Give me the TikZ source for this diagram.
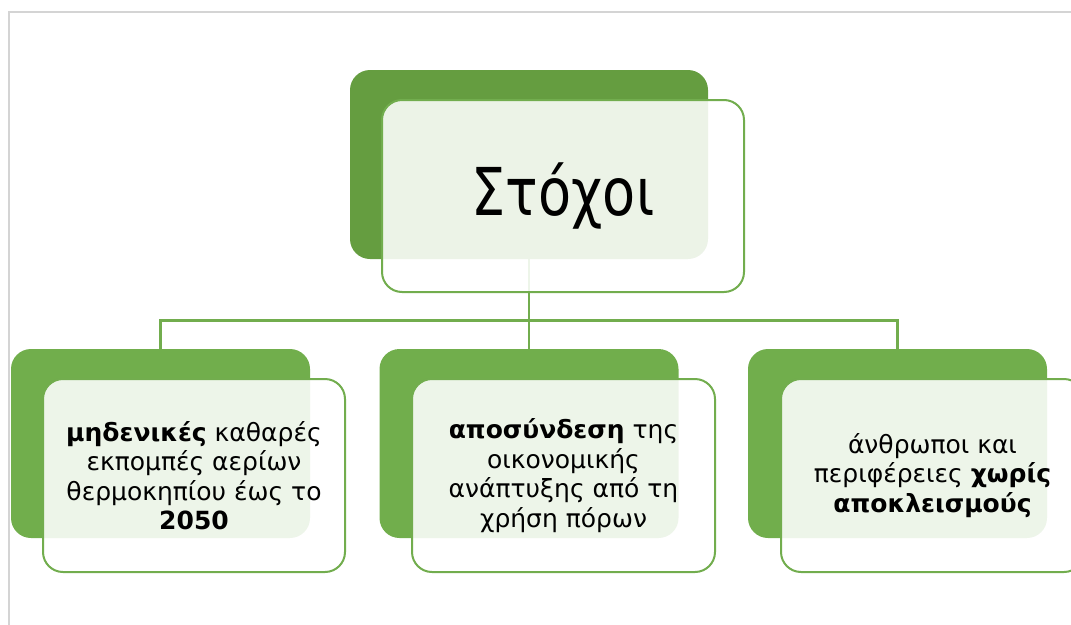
\documentclass[tikz,border=0pt]{standalone}
\usepackage{fontspec}
\setmainfont{DejaVu Sans}
\newfontfamily\titlefont{DejaVu Sans}[FakeStretch=0.82]
\definecolor{gdark}{HTML}{659D40}
\definecolor{glight}{HTML}{71AE4C}
\definecolor{gline}{HTML}{72AD4E}
\definecolor{framegrey}{HTML}{D4D4D4}
\pgfdeclarelayer{bg}
\pgfsetlayers{bg,main}
\tikzset{
  backbox/.style={rectangle, rounded corners=20pt, inner sep=0pt, draw=none},
  frontbox/.style={rectangle, rounded corners=20pt, inner sep=0pt, draw=gline, line width=2pt,
    fill=white, fill opacity=0.88, text opacity=1, align=center},
  childtext/.style={font=\fontsize{25}{29.5}\selectfont},
  conn/.style={draw=gline, line width=2.2pt},
}
\begin{document}
\begin{tikzpicture}[x=1pt,y=-1pt]
\useasboundingbox (0,0) rectangle (1071,624);
\clip (0,0) rectangle (1071,624);
% frame
\begin{pgfonlayer}{bg}
\coordinate (ftl) at (9,12);
\coordinate (ftr) at (1075,12);
\coordinate (fbl) at (9,630);
\draw[framegrey, line width=1.4pt] (ftr) -- (ftl) -- (fbl);
\end{pgfonlayer}
% back boxes
\node[backbox, fill=gdark, minimum width=358pt, minimum height=189pt] (topback) at (529,164.5) {};
\node[backbox, fill=glight, minimum width=299pt, minimum height=189pt] (backL) at (160.5,443.5) {};
\node[backbox, fill=glight, minimum width=299pt, minimum height=189pt] (backM) at (529,443.5) {};
\node[backbox, fill=glight, minimum width=299pt, minimum height=189pt] (backR) at (897.5,443.5) {};
% connectors
\coordinate (bus) at (529,320.5);
\begin{pgfonlayer}{bg}
\draw[conn] (topback.south) -- (bus) -| (backL.north);
\draw[conn] (bus) -| (backR.north);
\draw[conn] (bus) -- (backM.north);
\end{pgfonlayer}
% front boxes
\node[frontbox, minimum width=362pt, minimum height=192pt, font=\titlefont\fontsize{66}{70}\selectfont] (topfront) at (563,196) {Στόχοι};
\node[frontbox, childtext, minimum width=302pt, minimum height=193pt] (frontL) at (194,475.5)
  {\textbf{μηδενικές} καθαρές\\ εκπομπές αερίων\\ θερμοκηπίου έως το\\ \textbf{2050}};
\node[frontbox, childtext, minimum width=303pt, minimum height=193pt] (frontM) at (563.5,475.5)
  {\textbf{αποσύνδεση} της\\ οικονομικής\\ ανάπτυξης από τη\\ χρήση πόρων};
\node[frontbox, childtext, minimum width=303pt, minimum height=193pt] (frontR) at (932.5,475.5)
  {άνθρωποι και\\ περιφέρειες \textbf{χωρίς}\\ \textbf{αποκλεισμούς}};
\end{tikzpicture}
\end{document}
